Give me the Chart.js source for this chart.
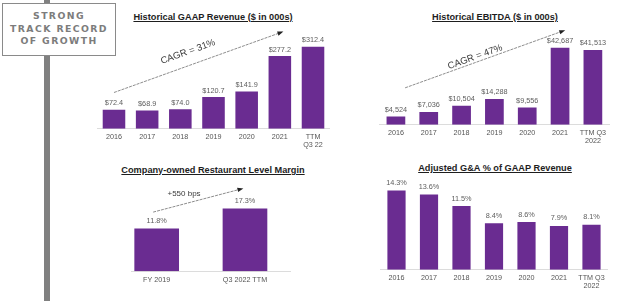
<!DOCTYPE html>
<html>
<head>
<meta charset="utf-8">
<script src="https://cdn.jsdelivr.net/npm/chart.js@4.4.0/dist/chart.umd.min.js"></script>
<style>
  body { margin: 0; width: 640px; height: 301px; background: #fff; position: relative; overflow: hidden;
         font-family: "Liberation Sans", Arial, sans-serif; }
  .pole { position: absolute; left: 44px; top: 0; width: 6px; height: 301px; background: #808080; }
  .sign { position: absolute; left: 2px; top: 3px; width: 112px; height: 45px; background: #fff;
          border: 1.5px solid #8a8a8a; color: #7c7c7c; font-family: "DejaVu Sans", sans-serif;
          font-weight: bold; font-size: 9.3px; letter-spacing: 1.4px; line-height: 12.5px;
          text-align: center; padding-top: 6px; box-sizing: content-box; }
  .title { position: absolute; font-weight: bold; font-size: 9.2px; color: #1e1e1e; white-space: nowrap;
           text-decoration: underline; transform: translate(-50%, -50%); }
  .chart { position: absolute; }
</style>
</head>
<body>
<div class="pole"></div>
<div class="sign">STRONG<br>TRACK RECORD<br>OF GROWTH</div>

<div class="title" style="left:213px;top:17px">Historical GAAP Revenue ($ in 000s)</div>
<div class="title" style="left:495px;top:17px">Historical EBITDA ($ in 000s)</div>
<div class="title" style="left:213px;top:170px">Company-owned Restaurant Level Margin</div>
<div class="title" style="left:495px;top:168px">Adjusted G&amp;A % of GAAP Revenue</div>

<div class="chart" style="left:90px;top:0;width:250px;height:160px"><canvas id="rev"></canvas></div>
<div class="chart" style="left:370px;top:0;width:270px;height:160px"><canvas id="ebitda"></canvas></div>
<div class="chart" style="left:100px;top:150px;width:220px;height:151px"><canvas id="margin"></canvas></div>
<div class="chart" style="left:370px;top:150px;width:270px;height:151px"><canvas id="ga"></canvas></div>

<script>
const REV_LABELS = ['2016', '2017', '2018', '2019', '2020', '2021', ['TTM', 'Q3 22']];
const REV_VALUES = [72.4, 68.9, 74.0, 120.7, 141.9, 277.2, 312.4];

const EBITDA_LABELS = ['2016', '2017', '2018', '2019', '2020', '2021', ['TTM Q3', '2022']];
const EBITDA_VALUES = [4524, 7036, 10504, 14288, 9556, 42687, 41513];

const MARGIN_LABELS = ['FY 2019', 'Q3 2022 TTM'];
const MARGIN_VALUES = [11.8, 17.3];

const GA_LABELS = ['2016', '2017', '2018', '2019', '2020', '2021', ['TTM Q3', '2022']];
const GA_VALUES = [14.3, 13.6, 11.5, 8.4, 8.6, 7.9, 8.1];

const PURPLE = '#6a2c91';
const FONT = '"Liberation Sans", Arial, sans-serif';

// numbers above each bar
const valueLabels = {
  id: 'valueLabels',
  afterDatasetsDraw(chart, args, o) {
    const ctx = chart.ctx;
    const meta = chart.getDatasetMeta(0);
    ctx.save();
    ctx.font = '7.3px ' + FONT;
    ctx.fillStyle = '#5e5e5e';
    ctx.textAlign = 'center';
    ctx.textBaseline = 'middle';
    meta.data.forEach((bar, i) => {
      const raw = chart.data.datasets[0].data[i];
      const v = typeof raw === 'object' ? raw.y : raw;
      ctx.fillText(o.format(v), bar.x, bar.y - o.gap);
    });
    ctx.restore();
  }
};

// trend arrow with its caption, in data units
const trendArrow = {
  id: 'trendArrow',
  afterDatasetsDraw(chart, args, o) {
    if (!o.text) return;
    const { ctx, scales: { x, y } } = chart;
    const x0 = x.getPixelForValue(o.from[0]), y0 = y.getPixelForValue(o.from[1]);
    const x1 = x.getPixelForValue(o.to[0]), y1 = y.getPixelForValue(o.to[1]);
    const ang = Math.atan2(y1 - y0, x1 - x0);
    ctx.save();
    ctx.strokeStyle = '#707070';
    ctx.lineWidth = 0.8;
    ctx.setLineDash([3, 1]);
    ctx.beginPath();
    ctx.moveTo(x0, y0);
    ctx.lineTo(x1, y1);
    ctx.stroke();
    ctx.setLineDash([]);
    ctx.fillStyle = '#222';
    ctx.beginPath();
    ctx.moveTo(x1 + Math.cos(ang) * 2, y1 + Math.sin(ang) * 2);
    ctx.lineTo(x1 - Math.cos(ang - 0.5) * 4.5, y1 - Math.sin(ang - 0.5) * 4.5);
    ctx.lineTo(x1 - Math.cos(ang + 0.5) * 4.5, y1 - Math.sin(ang + 0.5) * 4.5);
    ctx.closePath();
    ctx.fill();

    const tx = x.getPixelForValue(o.at[0]), ty = y.getPixelForValue(o.at[1]);
    ctx.translate(tx, ty);
    if (o.rotate) ctx.rotate(ang);
    ctx.font = o.fontSize + 'px ' + FONT;
    ctx.fillStyle = '#3a3a3a';
    ctx.textAlign = 'center';
    ctx.textBaseline = 'middle';
    ctx.fillText(o.text, 0, 0);
    ctx.restore();
  }
};

function xAxis(extra) {
  return Object.assign({
    grid: { display: false, drawTicks: false },
    border: { display: true, color: '#dcdcdc', width: 1 },
    ticks: { color: '#555', padding: 4, maxRotation: 0, autoSkip: false,
             font: { family: FONT, size: 7.2, lineHeight: 1.15 } }
  }, extra);
}

function barChart(id, labels, values, barPct, padding, yMax, plugOpts) {
  return new Chart(document.getElementById(id), {
    type: 'bar',
    data: {
      labels: labels,
      datasets: [{ data: values, backgroundColor: PURPLE, borderWidth: 0,
                   barPercentage: barPct, categoryPercentage: 1 }]
    },
    options: {
      responsive: true,
      maintainAspectRatio: false,
      animation: false,
      layout: { padding: padding },
      scales: {
        x: xAxis({}),
        y: { display: false, min: 0, max: yMax }
      },
      plugins: Object.assign({ legend: { display: false }, tooltip: { enabled: false } }, plugOpts)
    },
    plugins: [valueLabels, trendArrow]
  });
}

barChart('rev', REV_LABELS, REV_VALUES, 0.68,
  { left: 7.4, right: 10.4, top: 23.9, bottom: 6.8 }, 400, {
    valueLabels: { format: v => '$' + v.toFixed(1), gap: 6.5 },
    trendArrow: { from: [0, 138], to: [5.05, 368], at: [2.23, 293], text: 'CAGR = 31%', rotate: true, fontSize: 9.5 }
  });

barChart('ebitda', EBITDA_LABELS, EBITDA_VALUES, 0.57,
  { left: 9.5, right: 30.7, top: 34.6, bottom: 10.8 }, 50000, {
    valueLabels: { format: v => '$' + v.toLocaleString('en-US'), gap: 6.7 },
    trendArrow: { from: [0.28, 20440], to: [5.1, 52080], at: [2.41, 37510], text: 'CAGR = 47%', rotate: true, fontSize: 9.5 }
  });

barChart('ga', GA_LABELS, GA_VALUES, 0.56,
  { left: 10.25, right: 32.25, top: 31.1, bottom: 6.8 }, 16, {
    valueLabels: { format: v => v.toFixed(1) + '%', gap: 7.5 },
    trendArrow: { text: '' }
  });

// margin chart: linear x so the baseline can run wider on the right
new Chart(document.getElementById('margin'), {
  type: 'bar',
  data: {
    datasets: [{
      data: MARGIN_VALUES.map((v, i) => ({ x: i, y: v })),
      backgroundColor: PURPLE, borderWidth: 0, barPercentage: 0.506, categoryPercentage: 1
    }]
  },
  options: {
    responsive: true,
    maintainAspectRatio: false,
    animation: false,
    layout: { padding: { left: 31.7, right: 30, top: 48.7, bottom: 11.5 } },
    scales: {
      x: xAxis({
        type: 'linear', offset: false, min: -0.283, max: 1.51,
        afterBuildTicks: s => { s.ticks = MARGIN_LABELS.map((_, i) => ({ value: i })); },
        ticks: { color: '#555', padding: 5, maxRotation: 0, autoSkip: false,
                 font: { family: FONT, size: 7.2, lineHeight: 1.15 },
                 callback: v => MARGIN_LABELS[v] }
      }),
      y: { display: false, min: 0, max: 20 }
    },
    plugins: {
      legend: { display: false },
      tooltip: { enabled: false },
      valueLabels: { format: v => v.toFixed(1) + '%', gap: 7.5 },
      trendArrow: { from: [-0.04, 16.3], to: [0.96, 22.7], at: [0.31, 21.4], text: '+550 bps', rotate: false, fontSize: 8 }
    }
  },
  plugins: [valueLabels, trendArrow]
});
</script>
</body>
</html>
